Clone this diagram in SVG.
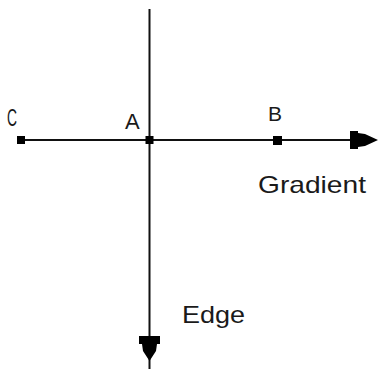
<svg xmlns="http://www.w3.org/2000/svg" width="382" height="369" viewBox="0 0 382 369">
  <style>
    .ln { stroke: #111; stroke-width: 2; fill: none; }
    .pt { fill: #000; }
    .ah { fill: #000; }
    .lbl { font-family: "Liberation Sans", Arial, sans-serif; fill: #1a1a1a; }
  </style>
  <rect width="382" height="369" fill="#fff"/>
  <g id="connectors">
    <line class="ln" x1="149.5" y1="9" x2="149.5" y2="369"/>
    <line class="ln" x1="21" y1="140" x2="360" y2="140"/>
    <polygon class="ah" points="350,131 358,131 358,133 365,134 378,140 365,146 358,147 358,149 350,149"/>
    <polygon class="ah" points="139,336 160,336 160,344 157,344 156,351 149.5,361 143,351 142,344 139,344"/>
  </g>
  <g id="node-C">
    <rect class="pt" x="17" y="136" width="8" height="8"/>
    <text class="lbl" x="7" y="126" font-size="23" textLength="10" lengthAdjust="spacingAndGlyphs">C</text>
  </g>
  <g id="node-A">
    <rect class="pt" x="145.5" y="136" width="8" height="8"/>
    <text class="lbl" x="125" y="129" font-size="22">A</text>
  </g>
  <g id="node-B">
    <rect class="pt" x="273" y="136" width="9" height="9"/>
    <text class="lbl" x="268" y="121" font-size="21">B</text>
  </g>
  <g id="label-gradient">
    <text class="lbl" x="258" y="193" font-size="24" textLength="108" lengthAdjust="spacingAndGlyphs">Gradient</text>
  </g>
  <g id="label-edge">
    <text class="lbl" x="182" y="323" font-size="24" textLength="63" lengthAdjust="spacingAndGlyphs">Edge</text>
  </g>
</svg>
